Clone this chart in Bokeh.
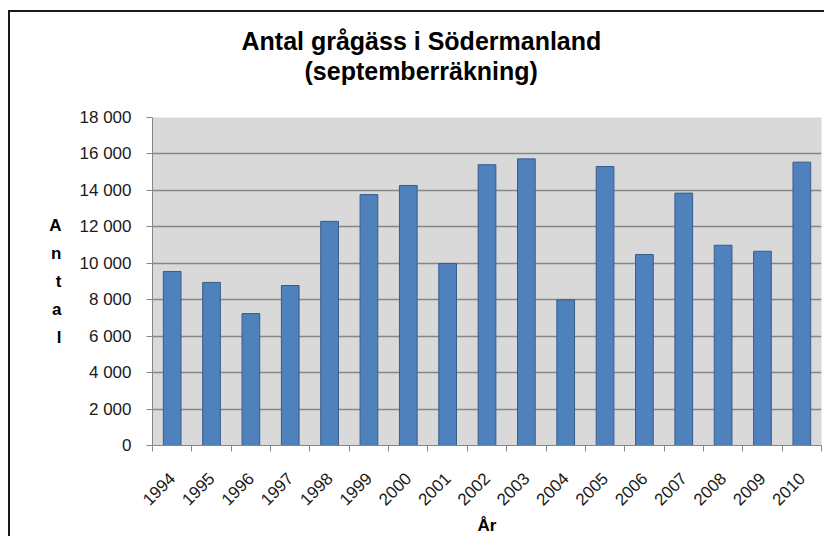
import math
from bokeh.plotting import figure
from bokeh.models import Range1d, FixedTicker, Title, ColumnDataSource
from bokeh.embed import file_html
from bokeh.resources import INLINE

# ---- data ----
years = ["1994", "1995", "1996", "1997", "1998", "1999", "2000", "2001", "2002",
         "2003", "2004", "2005", "2006", "2007", "2008", "2009", "2010"]
counts = [9550, 8950, 7240, 8780, 12300, 13770, 14270, 9990, 15410,
          15730, 7990, 15310, 10480, 13850, 10990, 10660, 15550]
y_ticks = [0, 2000, 4000, 6000, 8000, 10000, 12000, 14000, 16000, 18000]
y_tick_labels = ["0", "2 000", "4 000", "6 000", "8 000", "10 000",
                 "12 000", "14 000", "16 000", "18 000"]
title_line1 = "Antal grågäss i Södermanland"
title_line2 = "(septemberräkning)"
x_label = "År"
y_label = "Antal"

n = len(years)
centers = [i + 0.5 for i in range(n)]
boundaries = list(range(n + 1))
src = ColumnDataSource(dict(x=centers, top=counts, year=years))

FONT = "Liberation Sans"

p = figure(width=816, height=526,
           x_range=Range1d(0, n), y_range=Range1d(0, 18000),
           output_backend="svg", toolbar_location=None,
           min_border_left=142, min_border_right=5,
           min_border_top=105, min_border_bottom=93,
           title=None)
# chart-area frame: only its left and top edges are visible in the reference
p.styles = {"margin-left": "8px", "margin-top": "10px",
            "border-left": "2px solid #1a1a1a", "border-top": "2px solid #1a1a1a"}

p.background_fill_color = "#D9D9D9"
p.border_fill_color = "white"
p.outline_line_color = None

p.vbar(x="x", top="top", width=0.45, source=src,
       fill_color="#4F81BD", line_color="#385D8A", line_width=1)

# titles, stacked outward from the frame: spacer, line 2, line 1
spacer = Title(text=" ", text_font_size="1px", standoff=30)
t2 = Title(text=title_line2, align="left", offset=152, standoff=0,
           text_font=FONT, text_font_size="25px", text_font_style="bold",
           text_color="black")
t1 = Title(text=title_line1, align="left", offset=89, standoff=0,
           text_font=FONT, text_font_size="25px", text_font_style="bold",
           text_color="black")
p.add_layout(spacer, "above")
p.add_layout(t2, "above")
p.add_layout(t1, "above")

# x axis
xa = p.xaxis[0]
xa.ticker = FixedTicker(ticks=centers, minor_ticks=boundaries)
xa.major_label_overrides = {c: y for c, y in zip(centers, years)}
xa.major_label_orientation = math.pi / 4
xa.major_tick_in = 0
xa.major_tick_out = 0
xa.minor_tick_in = 0
xa.minor_tick_out = 6
xa.minor_tick_line_color = "#868686"
xa.axis_line_color = "#868686"
xa.major_label_text_font = FONT
xa.major_label_text_font_size = "17px"
xa.major_label_text_color = "#1a1a1a"
xa.major_label_standoff = 24
xa.axis_label = x_label
xa.axis_label_text_font = FONT
xa.axis_label_text_font_size = "17px"
xa.axis_label_text_font_style = "bold"
xa.axis_label_text_color = "black"
xa.axis_label_standoff = 2

# y axis
ya = p.yaxis[0]
ya.ticker = FixedTicker(ticks=y_ticks)
ya.major_label_overrides = {t: l for t, l in zip(y_ticks, y_tick_labels)}
ya.major_tick_in = 0
ya.major_tick_out = 6
ya.minor_tick_line_color = None
ya.major_tick_line_color = "#868686"
ya.axis_line_color = "#868686"
ya.major_label_text_font = FONT
ya.major_label_text_font_size = "17px"
ya.major_label_text_color = "#1a1a1a"
ya.major_label_standoff = 15
ya.axis_label = "\n".join(y_label)
ya.axis_label_orientation = "horizontal"
ya.axis_label_text_font = FONT
ya.axis_label_text_font_size = "17px"
ya.axis_label_text_font_style = "bold"
ya.axis_label_text_color = "black"
ya.axis_label_text_line_height = 1.47
ya.axis_label_standoff = 15

p.xgrid.grid_line_color = None
p.ygrid.grid_line_color = "#868686"
p.ygrid.grid_line_width = 1.5

open("out.html", "w").write(file_html(p, INLINE))
